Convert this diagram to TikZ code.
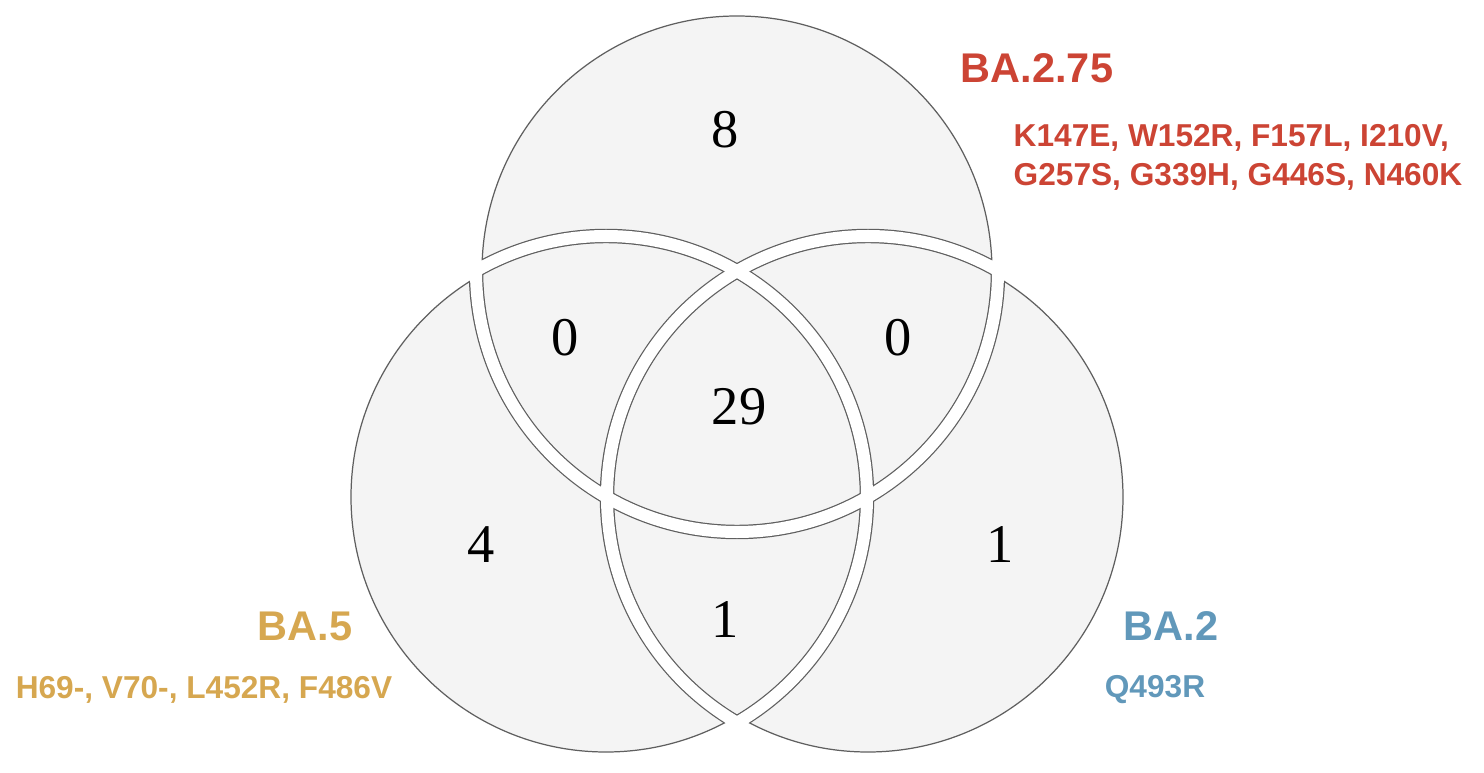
\documentclass[tikz,border=0pt]{standalone}
\usepackage{fontspec}
\setmainfont{Liberation Serif}
\newfontfamily\lineagefont{Liberation Sans}
\usepackage{tikz}
\usetikzlibrary{positioning}
\definecolor{vennfill}{RGB}{244,244,244}
\definecolor{venngrey}{RGB}{95,95,95}
\definecolor{lineagered}{RGB}{204,68,52}
\definecolor{lineagegold}{RGB}{214,167,80}
\definecolor{lineageblue}{RGB}{97,152,186}

\begin{document}
\begin{tikzpicture}[x=0.01cm,y=-0.01cm,line cap=round,line join=round,
  count/.style={inner sep=0pt,font=\fontsize{15.5}{16}\selectfont},
  lineage/.style={inner sep=0pt,font=\lineagefont\bfseries\fontsize{11.8}{13}\selectfont},
  muts/.style={inner sep=0pt,align=left,font=\lineagefont\bfseries\fontsize{9}{11.1}\selectfont}]
 \useasboundingbox (0,0) rectangle (1484,773);
 \coordinate (ctop) at (737,271);
 \coordinate (cleft) at (606,497);
 \coordinate (cright) at (868,497);
 % the three sets
 \foreach \c in {ctop,cleft,cright}
  \fill[vennfill] (\c) circle[radius=255];
 \foreach \c in {ctop,cleft,cright}
  \draw[venngrey,line width=0.35pt] (\c) circle[radius=255];
 % gaps between the regions
 \foreach \c/\a/\b in {ctop/cleft/cright,cleft/ctop/cright,cright/ctop/cleft}{
  \begin{scope}
   \clip (\a) circle[radius=255] (\b) circle[radius=255];
   \draw[venngrey,line width=0.12cm+0.7pt] (\c) circle[radius=261];
  \end{scope}
 }
 \foreach \c/\a/\b in {ctop/cleft/cright,cleft/ctop/cright,cright/ctop/cleft}{
  \begin{scope}
   \clip (\a) circle[radius=267] (\b) circle[radius=267];
   \draw[white,line width=0.12cm] (\c) circle[radius=261];
  \end{scope}
 }
 % counts
 \node[count] (ntop) at (725,130) {8};
 \node[count] (ntopleft) at (565,338) {0};
 \node[count] (ntopright) at (898,338) {0};
 \node[count] (nall) at (739,407) {29};
 \node[count] (nleft) at (481,545) {4};
 \node[count] (nright) at (1000,545) {1};
 \node[count] (nleftright) at (725,620) {1};
 % lineages
 \node[lineage,text=lineagered] (ba275) at (1037,68) {BA.2.75};
 \node[muts,text=lineagered,anchor=west] (ba275muts) at (1013,157)
  {K147E, W152R, F157L, I210V,\\G257S, G339H, G446S, N460K};
 \node[lineage,text=lineagegold] (ba5) at (305,626) {BA.5};
 \node[muts,text=lineagegold] (ba5muts) at (204,690) {H69-, V70-, L452R, F486V};
 \node[lineage,text=lineageblue] (ba2) at (1171,626) {BA.2};
 \node[muts,text=lineageblue] (ba2muts) at (1155,690) {Q493R};
\end{tikzpicture}
\end{document}
